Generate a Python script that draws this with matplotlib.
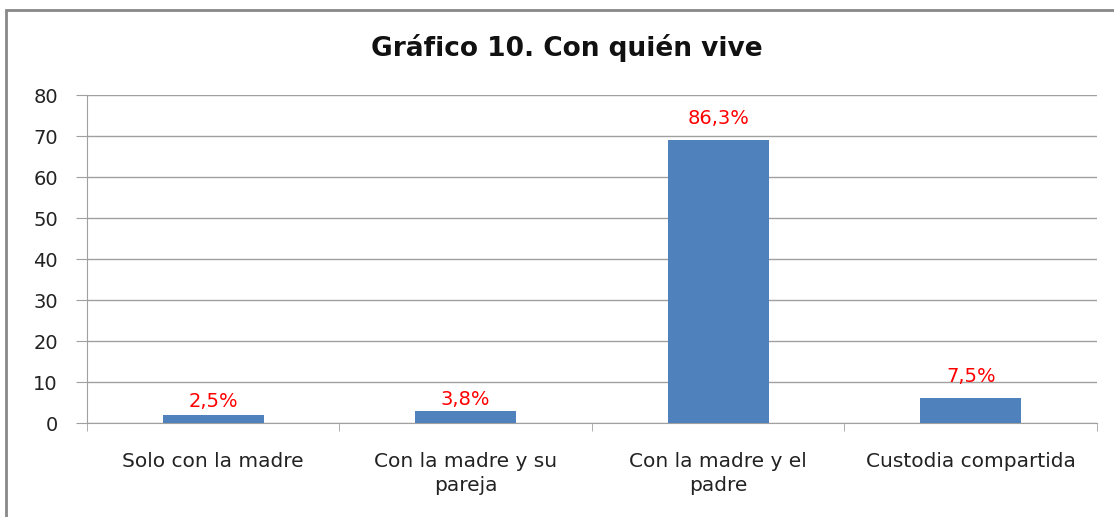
import matplotlib.pyplot as plt
from matplotlib.patches import Rectangle
import numpy as np

categories = ['Solo con la madre', 'Con la madre y su\npareja', 'Con la madre y el\npadre', 'Custodia compartida']
counts = [2, 3, 69, 6]
pct_labels = ['2,5%', '3,8%', '86,3%', '7,5%']

plt.rcParams['font.family'] = ['DejaVu Sans']

fig = plt.figure(figsize=(11.14, 5.17), dpi=100)
ax = fig.add_axes([0.0781, 0.1818, 0.9066, 0.6344])

x = np.arange(len(categories))
bars = ax.bar(x, counts, width=0.4, color='#4f81bd', zorder=3)
# label offsets (points) above each bar, as placed in the original
label_offsets = [3, 1, 9, 9]
for b, lab, off in zip(bars, pct_labels, label_offsets):
    ax.annotate(lab, (b.get_x() + b.get_width() / 2, b.get_height()),
                xytext=(0, off), textcoords='offset points', ha='center', va='bottom',
                color='#ff0000', fontsize=14, zorder=4)

ax.set_xlim(-0.5, len(categories) - 0.5)
ax.set_ylim(0, 80)
ax.set_yticks(range(0, 81, 10))
ax.grid(axis='y', color='#a0a0a0', linewidth=1, zorder=0)
ax.set_xticks(x)
ax.set_xticklabels(categories, fontsize=14.5, color='#222222', linespacing=1.35)
ax.set_xticks(np.arange(-0.5, len(categories), 1), minor=True)
ax.tick_params(axis='x', which='major', length=0, pad=21)
ax.tick_params(axis='x', which='minor', length=6, color='#a0a0a0', direction='out')
ax.tick_params(axis='y', length=8, color='#a0a0a0', labelsize=14, labelcolor='#222222', pad=13)
for s in ['top', 'right']:
    ax.spines[s].set_visible(False)
for s in ['left', 'bottom']:
    ax.spines[s].set_color('#a0a0a0')

fig.text(0.509, 0.907, 'Gráfico 10. Con quién vive', ha='center', va='center',
         fontsize=19, fontweight='bold', color='#111111')

fig.patches.append(Rectangle((6 / 1114, -0.05), 1.2, 1 - 10 / 517 + 0.05, transform=fig.transFigure,
                             fill=False, edgecolor='#888888', linewidth=2))

fig.savefig('out.png', dpi=100)
